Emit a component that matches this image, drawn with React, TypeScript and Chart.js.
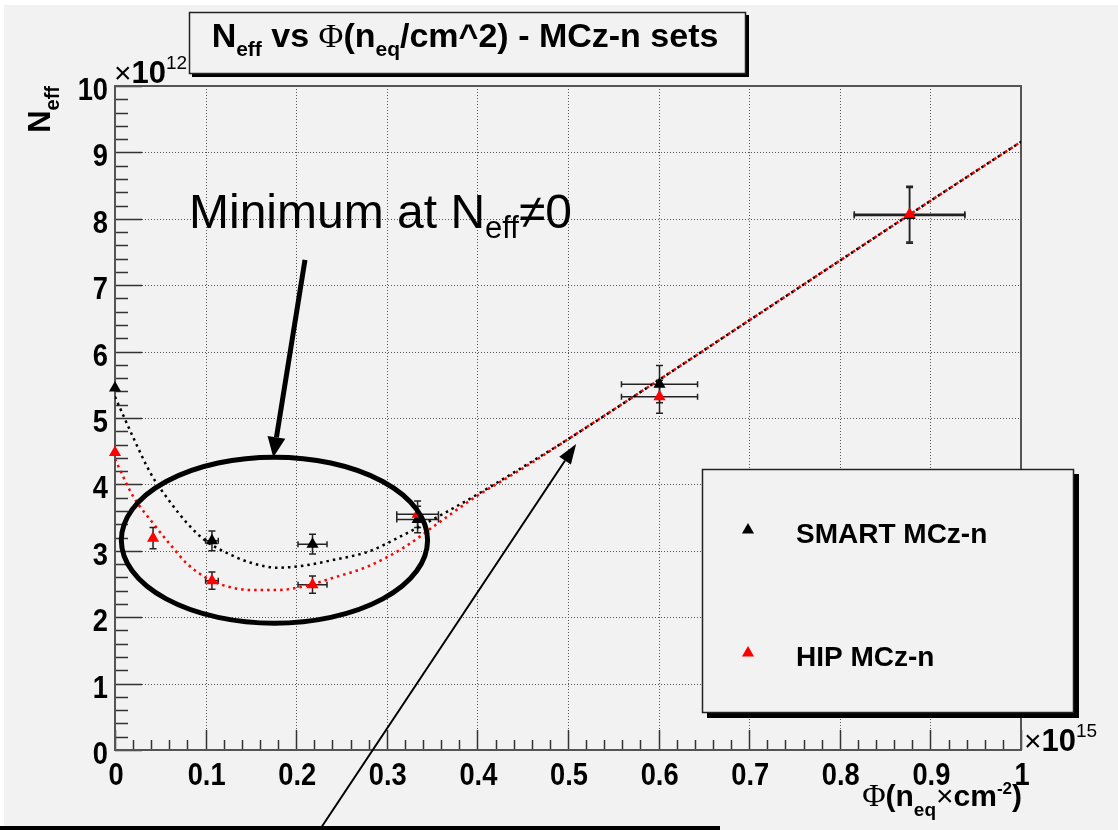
import React, { useEffect, useRef } from 'react';
import { Chart, registerables } from 'chart.js';

Chart.register(...registerables);

// ---------- data ----------
const xTickValues = [0, 0.1, 0.2, 0.3, 0.4, 0.5, 0.6, 0.7, 0.8, 0.9, 1];
const xTickLabels = ['0', '0.1', '0.2', '0.3', '0.4', '0.5', '0.6', '0.7', '0.8', '0.9', '1'];
const yTickValues = [0, 1, 2, 3, 4, 5, 6, 7, 8, 9, 10];
const yTickLabels = ['0', '1', '2', '3', '4', '5', '6', '7', '8', '9', '10'];

const smartX = [0, 0.107, 0.218, 0.334, 0.601, 0.877];
const smartY = [5.45, 3.15, 3.1, 3.47, 5.51, 8.05];
const smartXErr = [0, 0.007, 0.016, 0.023, 0.042, 0.061];
const smartYErr = [0, 0.15, 0.15, 0.2, 0.28, 0.42];

const hipX = [0, 0.042, 0.107, 0.218, 0.334, 0.601, 0.877];
const hipY = [4.48, 3.19, 2.55, 2.49, 3.55, 5.32, 8.07];
const hipXErr = [0, 0, 0.007, 0.016, 0.023, 0.042, 0.061];
const hipYErr = [0, 0.16, 0.13, 0.13, 0.2, 0.25, 0.42];

const fitX = [0, 0.02, 0.04, 0.06, 0.08, 0.1, 0.12, 0.15, 0.18, 0.21, 0.24, 0.28, 0.32, 0.36, 0.4, 0.45, 0.5, 0.6, 0.7, 0.8, 0.9, 1.0];
const smartFitY = [5.32, 4.71, 4.15, 3.75, 3.41, 3.15, 2.99, 2.82, 2.745, 2.78, 2.86, 2.99, 3.25, 3.54, 3.85, 4.26, 4.68, 5.57, 6.47, 7.37, 8.27, 9.16];
const hipFitY = [4.38, 3.82, 3.45, 3.11, 2.8, 2.6, 2.48, 2.41, 2.41, 2.47, 2.59, 2.77, 3.06, 3.45, 3.83, 4.24, 4.68, 5.57, 6.47, 7.37, 8.27, 9.16];

const seriesNames = ['SMART MCz-n', 'HIP MCz-n'];
const seriesColors = ['#000000', '#ff0000'];

// ---------- style ----------
const SANS = '"Liberation Sans", Arial, Helvetica, sans-serif';
const SERIF = '"Liberation Serif", "Times New Roman", serif';
const BG = '#f2f2f2';
const TICK_FONT = `bold 31px ${SANS}`;
const CONDENSE = 0.88;

type Seg = { t: string; font: string; dy?: number };

function drawRich(ctx: CanvasRenderingContext2D, segs: Seg[], x: number, y: number, align: 'left' | 'center' | 'right') {
  let w = 0;
  for (const s of segs) {
    ctx.font = s.font;
    w += ctx.measureText(s.t).width;
  }
  let cx = align === 'left' ? x : align === 'center' ? x - w / 2 : x - w;
  ctx.textAlign = 'left';
  ctx.textBaseline = 'alphabetic';
  for (const s of segs) {
    ctx.font = s.font;
    ctx.fillText(s.t, cx, y + (s.dy || 0));
    cx += ctx.measureText(s.t).width;
  }
}

function drawCondensed(ctx: CanvasRenderingContext2D, text: string, x: number, y: number, align: CanvasTextAlign) {
  ctx.save();
  ctx.translate(x, y);
  ctx.scale(CONDENSE, 1);
  ctx.font = TICK_FONT;
  ctx.textAlign = align;
  ctx.textBaseline = 'alphabetic';
  ctx.fillStyle = '#000';
  ctx.fillText(text, 0, 0);
  ctx.restore();
}

function drawArrow(ctx: CanvasRenderingContext2D, x1: number, y1: number, x2: number, y2: number, lw: number, hl: number, hw: number) {
  const a = Math.atan2(y2 - y1, x2 - x1);
  const bx = x2 - hl * Math.cos(a);
  const by = y2 - hl * Math.sin(a);
  ctx.save();
  ctx.strokeStyle = '#000';
  ctx.fillStyle = '#000';
  ctx.lineWidth = lw;
  ctx.beginPath();
  ctx.moveTo(x1, y1);
  ctx.lineTo(bx, by);
  ctx.stroke();
  ctx.beginPath();
  ctx.moveTo(x2, y2);
  ctx.lineTo(bx + (hw / 2) * Math.sin(a), by - (hw / 2) * Math.cos(a));
  ctx.lineTo(bx - (hw / 2) * Math.sin(a), by + (hw / 2) * Math.cos(a));
  ctx.closePath();
  ctx.fill();
  ctx.restore();
}

function triangle(ctx: CanvasRenderingContext2D, x: number, y: number, r: number, color: string) {
  ctx.fillStyle = color;
  ctx.beginPath();
  ctx.moveTo(x, y - r);
  ctx.lineTo(x + r * Math.sin((2 * Math.PI) / 3), y - r * Math.cos((2 * Math.PI) / 3));
  ctx.lineTo(x + r * Math.sin((4 * Math.PI) / 3), y - r * Math.cos((4 * Math.PI) / 3));
  ctx.closePath();
  ctx.fill();
}

const bgPlugin = {
  id: 'rootBg',
  beforeDraw(chart: any) {
    const ctx = chart.ctx as CanvasRenderingContext2D;
    ctx.save();
    ctx.fillStyle = '#ffffff';
    ctx.fillRect(0, 0, chart.width, chart.height);
    ctx.fillStyle = BG;
    ctx.fillRect(4, 5, chart.width - 4, chart.height - 5);
    ctx.restore();
  },
};

const gridPlugin = {
  id: 'rootGrid',
  beforeDatasetsDraw(chart: any) {
    const ctx = chart.ctx as CanvasRenderingContext2D;
    const xs = chart.scales.x;
    const ys = chart.scales.y;
    const { left, right, top, bottom } = chart.chartArea;
    ctx.save();
    ctx.strokeStyle = '#555';
    ctx.lineWidth = 1;
    ctx.setLineDash([1, 2]);
    for (const v of xTickValues.slice(1, -1)) {
      const px = Math.round(xs.getPixelForValue(v)) + 0.5;
      ctx.beginPath();
      ctx.moveTo(px, top);
      ctx.lineTo(px, bottom);
      ctx.stroke();
    }
    for (const v of yTickValues.slice(1, -1)) {
      const py = Math.round(ys.getPixelForValue(v)) + 0.5;
      ctx.beginPath();
      ctx.moveTo(left, py);
      ctx.lineTo(right, py);
      ctx.stroke();
    }
    ctx.setLineDash([]);
    ctx.strokeStyle = '#333';
    ctx.lineWidth = 1.5;
    for (let i = 0; i <= 50; i++) {
      const v = i / 5;
      const py = Math.round(ys.getPixelForValue(v)) + 0.5;
      const len = i % 5 === 0 ? 27 : 13;
      ctx.beginPath();
      ctx.moveTo(left, py);
      ctx.lineTo(left + len, py);
      ctx.stroke();
    }
    for (let i = 0; i <= 50; i++) {
      const v = i / 50;
      const px = Math.round(xs.getPixelForValue(v)) + 0.5;
      const len = i % 5 === 0 ? 20 : 10;
      ctx.beginPath();
      ctx.moveTo(px, bottom);
      ctx.lineTo(px, bottom - len);
      ctx.stroke();
    }
    ctx.lineWidth = 2;
    ctx.strokeStyle = '#555';
    ctx.strokeRect(left, top, right - left, bottom - top);
    ctx.restore();
  },
  afterDatasetsDraw(chart: any) {
    const ctx = chart.ctx as CanvasRenderingContext2D;
    const xs = chart.scales.x;
    const ys = chart.scales.y;
    const { left, bottom } = chart.chartArea;
    ctx.save();
    xTickValues.forEach((v, i) => {
      drawCondensed(ctx, xTickLabels[i], xs.getPixelForValue(v) + 1, bottom + 35, 'center');
    });
    yTickValues.forEach((v, i) => {
      drawCondensed(ctx, yTickLabels[i], left - 7, ys.getPixelForValue(v) + 14, 'right');
    });
    ctx.restore();
  },
};

const errorPlugin = {
  id: 'errorBars',
  beforeDatasetsDraw(chart: any) {
    const ctx = chart.ctx as CanvasRenderingContext2D;
    const xs = chart.scales.x;
    const ys = chart.scales.y;
    const sets = [
      { x: smartX, y: smartY, ex: smartXErr, ey: smartYErr },
      { x: hipX, y: hipY, ex: hipXErr, ey: hipYErr },
    ];
    ctx.save();
    ctx.strokeStyle = '#222';
    ctx.lineWidth = 1.5;
    for (const s of sets) {
      s.x.forEach((xv, i) => {
        const px = xs.getPixelForValue(xv);
        const py = ys.getPixelForValue(s.y[i]);
        if (s.ex[i] > 0) {
          const x1 = xs.getPixelForValue(xv - s.ex[i]);
          const x2 = xs.getPixelForValue(xv + s.ex[i]);
          ctx.beginPath();
          ctx.moveTo(x1, py);
          ctx.lineTo(x2, py);
          ctx.moveTo(x1, py - 3);
          ctx.lineTo(x1, py + 3);
          ctx.moveTo(x2, py - 3);
          ctx.lineTo(x2, py + 3);
          ctx.stroke();
        }
        if (s.ey[i] > 0) {
          const y1 = ys.getPixelForValue(s.y[i] + s.ey[i]);
          const y2 = ys.getPixelForValue(s.y[i] - s.ey[i]);
          ctx.beginPath();
          ctx.moveTo(px, y1);
          ctx.lineTo(px, y2);
          ctx.moveTo(px - 3.5, y1);
          ctx.lineTo(px + 3.5, y1);
          ctx.moveTo(px - 3.5, y2);
          ctx.lineTo(px + 3.5, y2);
          ctx.stroke();
        }
      });
    }
    ctx.restore();
  },
};

const annotPlugin = {
  id: 'annotations',
  afterDraw(chart: any) {
    const ctx = chart.ctx as CanvasRenderingContext2D;
    const xs = chart.scales.x;
    const ys = chart.scales.y;
    const { left, right, top, bottom } = chart.chartArea;
    ctx.save();

    // title box
    ctx.fillStyle = '#000';
    ctx.fillRect(192, 15, 557, 62);
    ctx.fillStyle = BG;
    ctx.fillRect(189, 12, 557, 62);
    ctx.strokeStyle = '#222';
    ctx.lineWidth = 1.5;
    ctx.strokeRect(189.5, 12.5, 556, 61);
    ctx.fillStyle = '#000';
    drawRich(
      ctx,
      [
        { t: 'N', font: `bold 34px ${SANS}` },
        { t: 'eff', font: `bold 21px ${SANS}`, dy: 9 },
        { t: ' vs ', font: `bold 34px ${SANS}` },
        { t: 'Φ', font: `34px ${SERIF}` },
        { t: '(n', font: `bold 34px ${SANS}` },
        { t: 'eq', font: `bold 21px ${SANS}`, dy: 9 },
        { t: '/cm^2) - MCz-n sets', font: `bold 34px ${SANS}` },
      ],
      465,
      47,
      'center'
    );

    // y axis title (rotated)
    ctx.save();
    ctx.translate(50, top);
    ctx.rotate(-Math.PI / 2);
    drawRich(
      ctx,
      [
        { t: 'N', font: `bold 31px ${SANS}` },
        { t: 'eff', font: `bold 20px ${SANS}`, dy: 9 },
      ],
      0,
      0,
      'right'
    );
    ctx.restore();

    // exponent labels
    drawRich(
      ctx,
      [
        { t: '×', font: `30px ${SANS}` },
        { t: '10', font: `bold 31px ${SANS}` },
        { t: '12', font: `19px ${SANS}`, dy: -14 },
      ],
      left - 1,
      top - 3,
      'left'
    );
    drawRich(
      ctx,
      [
        { t: '×', font: `30px ${SANS}` },
        { t: '10', font: `bold 31px ${SANS}` },
        { t: '15', font: `19px ${SANS}`, dy: -14 },
      ],
      right + 3,
      bottom + 1,
      'left'
    );

    // x axis title
    drawRich(
      ctx,
      [
        { t: 'Φ', font: `32px ${SERIF}` },
        { t: '(n', font: `bold 30px ${SANS}` },
        { t: 'eq', font: `bold 19px ${SANS}`, dy: 10 },
        { t: '×', font: `30px ${SANS}` },
        { t: 'cm', font: `bold 30px ${SANS}` },
        { t: '-2', font: `bold 17px ${SANS}`, dy: -12 },
        { t: ')', font: `bold 30px ${SANS}` },
      ],
      right + 1,
      806,
      'right'
    );

    // legend box
    ctx.fillStyle = '#000';
    ctx.fillRect(707, 474, 372, 244);
    ctx.fillStyle = BG;
    ctx.fillRect(702, 469, 372, 244);
    ctx.strokeStyle = '#222';
    ctx.lineWidth = 1.5;
    ctx.strokeRect(702.5, 469.5, 371, 243);
    const legY = [530, 653];
    seriesNames.forEach((name, i) => {
      triangle(ctx, 748, legY[i], 7, seriesColors[i]);
      ctx.fillStyle = '#000';
      ctx.font = `bold 28px ${SANS}`;
      ctx.textAlign = 'left';
      ctx.textBaseline = 'alphabetic';
      ctx.fillText(name, 796, legY[i] + 13);
    });

    // annotation text
    ctx.fillStyle = '#000';
    drawRich(
      ctx,
      [
        { t: 'Minimum at N', font: `48px ${SANS}` },
        { t: 'eff', font: `31px ${SANS}`, dy: 10 },
        { t: '≠0', font: `48px ${SANS}` },
      ],
      189,
      228,
      'left'
    );

    // ellipse around minimum
    const ecx = xs.getPixelForValue(0.176);
    const ecy = ys.getPixelForValue(3.16);
    const erx = xs.getPixelForValue(0.176 + 0.169) - ecx;
    const ery = ecy - ys.getPixelForValue(3.16 + 1.25);
    ctx.strokeStyle = '#000';
    ctx.lineWidth = 5;
    ctx.beginPath();
    ctx.ellipse(ecx, ecy, erx, ery, 0, 0, Math.PI * 2);
    ctx.stroke();

    // thick arrow
    drawArrow(
      ctx,
      xs.getPixelForValue(0.2097),
      ys.getPixelForValue(7.38),
      xs.getPixelForValue(0.1747),
      ys.getPixelForValue(4.41),
      5,
      20,
      18
    );
    // thin arrow
    drawArrow(
      ctx,
      xs.getPixelForValue(0.226),
      ys.getPixelForValue(-1.2),
      xs.getPixelForValue(0.509),
      ys.getPixelForValue(4.61),
      2,
      20,
      14
    );

    // bottom rule
    ctx.fillStyle = '#000';
    ctx.fillRect(0, 826, 720, 4);
    ctx.restore();
  },
};

export default function App() {
  const ref = useRef<HTMLCanvasElement>(null);
  useEffect(() => {
    const canvas = ref.current;
    if (!canvas) return;
    const chart = new Chart(canvas, {
      type: 'scatter',
      data: {
        datasets: [
          {
            label: seriesNames[0],
            data: smartX.map((x, i) => ({ x, y: smartY[i] })),
            backgroundColor: seriesColors[0],
            borderColor: seriesColors[0],
            borderWidth: 0,
            pointStyle: 'triangle',
            pointRadius: 7,
            showLine: false,
            clip: false,
            order: 1,
          },
          {
            label: seriesNames[1],
            data: hipX.map((x, i) => ({ x, y: hipY[i] })),
            backgroundColor: seriesColors[1],
            borderColor: seriesColors[1],
            borderWidth: 0,
            pointStyle: 'triangle',
            pointRadius: 7,
            showLine: false,
            clip: false,
            order: 0,
          },
          {
            label: 'SMART fit',
            data: fitX.map((x, i) => ({ x, y: smartFitY[i] })),
            borderColor: seriesColors[0],
            borderWidth: 2.5,
            borderDash: [2.5, 4],
            pointRadius: 0,
            showLine: true,
            cubicInterpolationMode: 'monotone',
            order: 3,
          },
          {
            label: 'HIP fit',
            data: fitX.map((x, i) => ({ x, y: hipFitY[i] })),
            borderColor: seriesColors[1],
            borderWidth: 2.5,
            borderDash: [2.5, 4],
            pointRadius: 0,
            showLine: true,
            cubicInterpolationMode: 'monotone',
            order: 2,
          },
        ],
      },
      options: {
        animation: false,
        responsive: false,
        maintainAspectRatio: false,
        layout: { padding: { top: 86, right: 97, left: 0, bottom: 0 } },
        plugins: {
          legend: { display: false },
          tooltip: { enabled: false },
          title: { display: false },
        },
        scales: {
          x: {
            type: 'linear',
            min: 0,
            max: 1,
            grid: { display: false, drawTicks: false },
            border: { display: false },
            afterBuildTicks: (scale: any) => {
              scale.ticks = xTickValues.map((v) => ({ value: v }));
            },
            afterFit: (scale: any) => {
              scale.height = 80;
            },
            ticks: { display: false, autoSkip: false, maxRotation: 0 },
          },
          y: {
            type: 'linear',
            min: 0,
            max: 10,
            grid: { display: false, drawTicks: false },
            border: { display: false },
            afterBuildTicks: (scale: any) => {
              scale.ticks = yTickValues.map((v) => ({ value: v }));
            },
            afterFit: (scale: any) => {
              scale.width = 115;
            },
            ticks: { display: false, autoSkip: false },
          },
        },
      },
      plugins: [bgPlugin, gridPlugin, errorPlugin, annotPlugin],
    } as any);
    return () => chart.destroy();
  }, []);
  return (
    <div style={{ position: 'absolute', left: 0, top: 0, width: 1118, height: 830 }}>
      <canvas ref={ref} width={1118} height={830} style={{ display: 'block' }} />
    </div>
  );
}
